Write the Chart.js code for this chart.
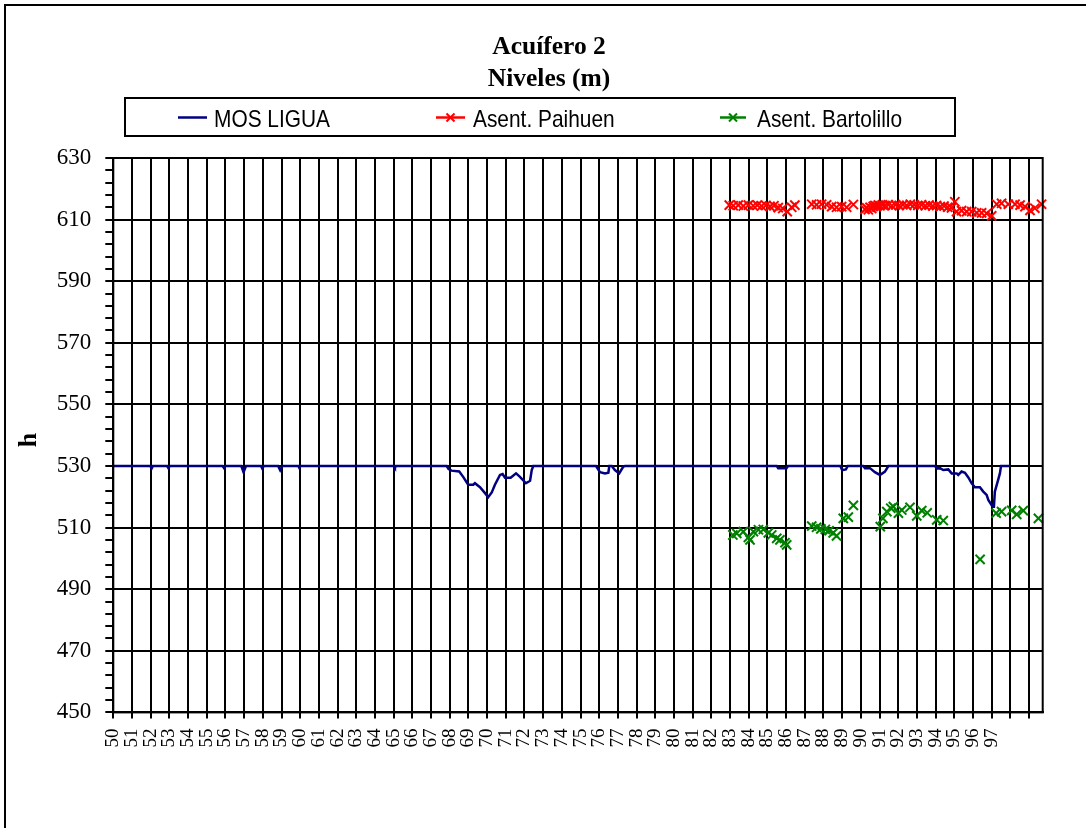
<!DOCTYPE html>
<html>
<head>
<meta charset="utf-8">
<title>Acuífero 2 - Niveles (m)</title>
<script src="https://cdn.jsdelivr.net/npm/chart.js@4/dist/chart.umd.min.js"></script>
<style>
  html, body { margin: 0; padding: 0; background: #fff; }
  #wrap { width: 1086px; height: 828px; }
</style>
</head>
<body>
<div id="wrap"><canvas id="chart" width="1086" height="828"></canvas></div>
<script>
// ---- Axis ticks ----
const yearTicks = [50,51,52,53,54,55,56,57,58,59,60,61,62,63,64,65,66,67,68,69,70,71,72,73,74,
                   75,76,77,78,79,80,81,82,83,84,85,86,87,88,89,90,91,92,93,94,95,96,97,98,99];
const yearLabels = ['50','51','52','53','54','55','56','57','58','59','60','61','62','63','64','65',
                    '66','67','68','69','70','71','72','73','74','75','76','77','78','79','80','81',
                    '82','83','84','85','86','87','88','89','90','91','92','93','94','95','96','97'];
const levelLabels = [450,470,490,510,530,550,570,590,610,630];

// ---- MOS LIGUA (years, level in m) ----
const mosYears = [50.00,51.98,52.05,52.12,52.88,52.95,53.02,55.85,55.92,56.00,56.85,56.97,57.10,
  57.90,57.97,58.05,58.82,58.93,59.05,59.90,59.95,60.00,65.02,65.07,65.12,
  67.84,67.94,68.10,68.51,68.73,68.99,69.26,69.35,69.62,69.89,70.06,70.25,70.42,70.69,70.83,
  70.96,71.26,71.55,71.76,72.08,72.30,72.39,72.47,
  75.83,76.04,76.31,76.49,76.54,76.67,76.84,77.07,77.29,77.38,
  85.50,85.58,86.02,86.10,88.90,89.00,89.20,89.30,
  90.13,90.22,90.49,90.75,91.02,91.29,91.47,
  93.96,94.09,94.23,94.41,94.68,94.86,95.13,95.21,95.39,95.57,95.75,95.93,96.10,96.37,96.55,
  96.73,96.82,97.05,97.12,97.17,97.32,97.44,97.50,97.98];
const mosLevels = [530,530,529.2,530,530,529.3,530,530,529.4,530,530,528.0,530,
  530,529.2,530,530,528.6,530,530,529.4,530,530,529.5,530,
  530,529.0,528.5,528.2,526.4,523.9,523.9,524.4,523.1,521.2,519.9,521.4,523.9,527.1,527.4,
  526.2,526.2,527.6,526.5,524.4,525.2,528.7,530,
  530,528.0,527.6,527.8,530,530,528.7,527.6,529.8,530,
  530,529.3,529.3,530,530,528.7,528.9,530,
  530,529.3,529.3,528.0,527.1,528.2,530,
  530,529.2,529.3,528.7,528.9,527.6,527.6,527.1,528.2,527.8,526.3,524.4,523.1,523.1,521.7,
  520.6,519.0,516.8,516.8,521.7,524.9,527.6,530,530];

// ---- Asent. Paihuen ----
const paihuenYears = [82.96,83.17,83.44,83.71,83.98,84.24,84.46,84.69,84.92,85.14,85.35,85.58,85.82,
  86.06,86.30,86.47,
  87.37,87.63,87.90,88.17,88.44,88.70,88.97,89.24,89.60,
  90.22,90.31,90.40,90.49,90.58,90.66,90.75,90.84,90.93,91.02,91.15,91.29,91.47,91.66,91.86,
  92.05,92.25,92.45,92.65,92.85,93.05,93.25,93.45,93.65,93.85,94.05,94.25,94.45,94.65,94.85,
  95.03,95.12,95.39,95.66,95.93,96.20,96.46,96.73,97.00,
  97.27,97.53,97.89,98.25,98.52,98.78,99.05,99.31,99.67];
const paihuenLevels = [614.7,614.5,614.7,614.4,614.7,614.5,614.7,614.4,614.6,614.3,614.5,613.9,613.6,
  612.6,614.0,614.7,
  615.0,614.8,615.0,614.8,614.2,614.0,614.2,614.0,614.9,
  613.3,613.8,613.2,614.0,613.6,614.3,614.6,614.2,614.7,614.5,614.8,614.6,614.8,614.5,614.8,
  614.6,614.8,614.6,615.0,614.8,614.6,614.8,614.5,614.7,614.4,614.6,614.2,614.4,614.0,613.8,
  615.8,612.6,612.9,612.6,612.6,612.2,612.2,612.0,611.2,
  615.0,615.3,615.0,615.0,614.7,614.2,613.0,613.7,615.0];

// ---- Asent. Bartolillo ----
const bartolilloYears = [83.15,83.36,83.71,83.98,84.07,84.25,84.52,84.78,85.05,85.23,85.50,85.67,85.94,86.03,
  87.37,87.63,87.86,88.10,88.30,88.52,88.70,
  89.06,89.33,89.60,
  91.04,91.18,91.39,91.60,91.74,92.01,92.19,92.63,92.99,93.26,93.55,94.06,94.41,
  96.38,
  97.24,97.53,98.07,98.34,98.69,99.50];
const bartolilloLevels = [507.6,508.1,508.7,506.8,506.0,508.7,509.3,509.4,508.3,507.6,506.5,506.0,505.1,504.4,
  510.5,510.1,509.6,509.4,509.0,508.3,507.3,
  513.0,513.4,517.2,
  510.3,513.0,515.2,516.3,516.8,514.7,515.7,516.6,513.8,515.5,514.8,512.5,512.3,
  499.7,
  514.7,515.2,515.6,514.3,515.5,513.0];

const pairs = (xs, ys) => xs.map((x, i) => ({ x: x, y: ys[i] }));

const SERIF = '"Liberation Serif", "Times New Roman", Times, serif';
const SANS = '"Liberation Sans", Arial, Helvetica, sans-serif';

const series = [
  { label: 'MOS LIGUA', color: '#000080', marker: false },
  { label: 'Asent. Paihuen', color: '#FF0000', marker: true },
  { label: 'Asent. Bartolillo', color: '#008000', marker: true }
];

function drawCross(ctx, x, y, half, color) {
  ctx.save();
  ctx.strokeStyle = color;
  ctx.lineWidth = 2;
  ctx.beginPath();
  ctx.moveTo(x - half, y - half); ctx.lineTo(x + half, y + half);
  ctx.moveTo(x - half, y + half); ctx.lineTo(x + half, y - half);
  ctx.stroke();
  ctx.restore();
}

// Title, legend box, axis title and frames
const decorations = {
  id: 'decorations',
  beforeDraw(chart) {
    const ctx = chart.ctx;
    ctx.save();
    ctx.fillStyle = '#fff';
    ctx.fillRect(0, 0, chart.width, chart.height);
    ctx.restore();
  },
  afterDraw(chart) {
    const ctx = chart.ctx;
    const a = chart.chartArea;
    ctx.save();
    ctx.strokeStyle = '#000';
    ctx.lineWidth = 2;
    ctx.strokeRect(a.left, a.top, a.right - a.left, a.bottom - a.top);
    // outer chart frame
    ctx.strokeRect(5, 5, 1300, 1300);

    // title
    ctx.fillStyle = '#000';
    ctx.textAlign = 'center';
    ctx.textBaseline = 'alphabetic';
    ctx.font = 'bold 25.5px ' + SERIF;
    ctx.fillText('Acuífero 2', 549, 54);
    ctx.fillText('Niveles (m)', 549, 86);

    // y axis title
    ctx.save();
    ctx.translate(36, 440);
    ctx.rotate(-Math.PI / 2);
    ctx.font = 'bold 26px ' + SERIF;
    ctx.fillText('h', 0, 0);
    ctx.restore();

    // legend box
    ctx.lineWidth = 2;
    ctx.strokeRect(125, 98, 830, 38);
    const items = [
      { s: series[0], x0: 178, x1: 207, tx: 214 },
      { s: series[1], x0: 436, x1: 465, tx: 473 },
      { s: series[2], x0: 720, x1: 746, tx: 757 }
    ];
    const ly = 117.5;
    items.forEach(it => {
      ctx.save();
      ctx.strokeStyle = it.s.color;
      ctx.lineWidth = 2.5;
      ctx.beginPath();
      ctx.moveTo(it.x0, ly); ctx.lineTo(it.x1, ly);
      ctx.stroke();
      ctx.restore();
      if (it.s.marker) drawCross(ctx, (it.x0 + it.x1) / 2, ly, 4, it.s.color);
      ctx.save();
      ctx.translate(it.tx, 127);
      ctx.scale(0.87, 1);
      ctx.textAlign = 'left';
      ctx.fillStyle = '#000';
      ctx.font = '24px ' + SANS;
      ctx.fillText(it.s.label, 0, 0);
      ctx.restore();
    });
    ctx.restore();
  }
};

new Chart(document.getElementById('chart'), {
  type: 'line',
  data: {
    datasets: [
      {
        label: series[0].label,
        data: pairs(mosYears, mosLevels),
        borderColor: series[0].color,
        backgroundColor: series[0].color,
        borderWidth: 2.5,
        pointRadius: 0,
        tension: 0,
        fill: false
      },
      {
        label: series[1].label,
        data: pairs(paihuenYears, paihuenLevels),
        borderColor: series[1].color,
        backgroundColor: series[1].color,
        showLine: false,
        pointStyle: 'crossRot',
        pointRadius: 6.5,
        pointBorderWidth: 2,
        clip: false
      },
      {
        label: series[2].label,
        data: pairs(bartolilloYears, bartolilloLevels),
        borderColor: series[2].color,
        backgroundColor: series[2].color,
        showLine: false,
        pointStyle: 'crossRot',
        pointRadius: 6.5,
        pointBorderWidth: 2,
        clip: false
      }
    ]
  },
  options: {
    responsive: false,
    animation: false,
    devicePixelRatio: 1,
    layout: { padding: { left: 8, right: 43.3, top: 158, bottom: 0 } },
    plugins: {
      legend: { display: false },
      title: { display: false },
      tooltip: { enabled: false }
    },
    scales: {
      x: {
        type: 'linear',
        min: 50,
        max: 99.73,
        afterBuildTicks(scale) { scale.ticks = yearTicks.map(v => ({ value: v })); },
        afterFit(scale) { scale.height = 115.6; },
        ticks: {
          autoSkip: false,
          minRotation: 90,
          maxRotation: 90,
          padding: 10,
          color: '#000',
          font: { family: SERIF, size: 19 },
          callback(value) {
            const i = yearTicks.indexOf(value);
            return i >= 0 && i < yearLabels.length ? yearLabels[i] : '';
          }
        },
        grid: { color: '#000', lineWidth: 2, tickLength: 6, tickColor: '#000' },
        border: { display: true, color: '#000', width: 2 }
      },
      y: {
        type: 'linear',
        min: 450,
        max: 630,
        afterBuildTicks(scale) {
          const t = [];
          for (let v = 450; v <= 630; v += 4) t.push({ value: v });
          scale.ticks = t;
        },
        afterFit(scale) { scale.width = 105.3; },
        ticks: {
          autoSkip: false,
          padding: 14,
          color: '#000',
          font: { family: SERIF, size: 23 },
          callback(value) { return levelLabels.includes(value) ? String(value) : ''; }
        },
        grid: {
          lineWidth: 2,
          tickLength: 8,
          tickColor: '#000',
          color: ctx => (ctx.tick && levelLabels.includes(ctx.tick.value)) ? '#000' : 'rgba(0,0,0,0)'
        },
        border: { display: true, color: '#000', width: 2 }
      }
    }
  },
  plugins: [decorations]
});
</script>
</body>
</html>
